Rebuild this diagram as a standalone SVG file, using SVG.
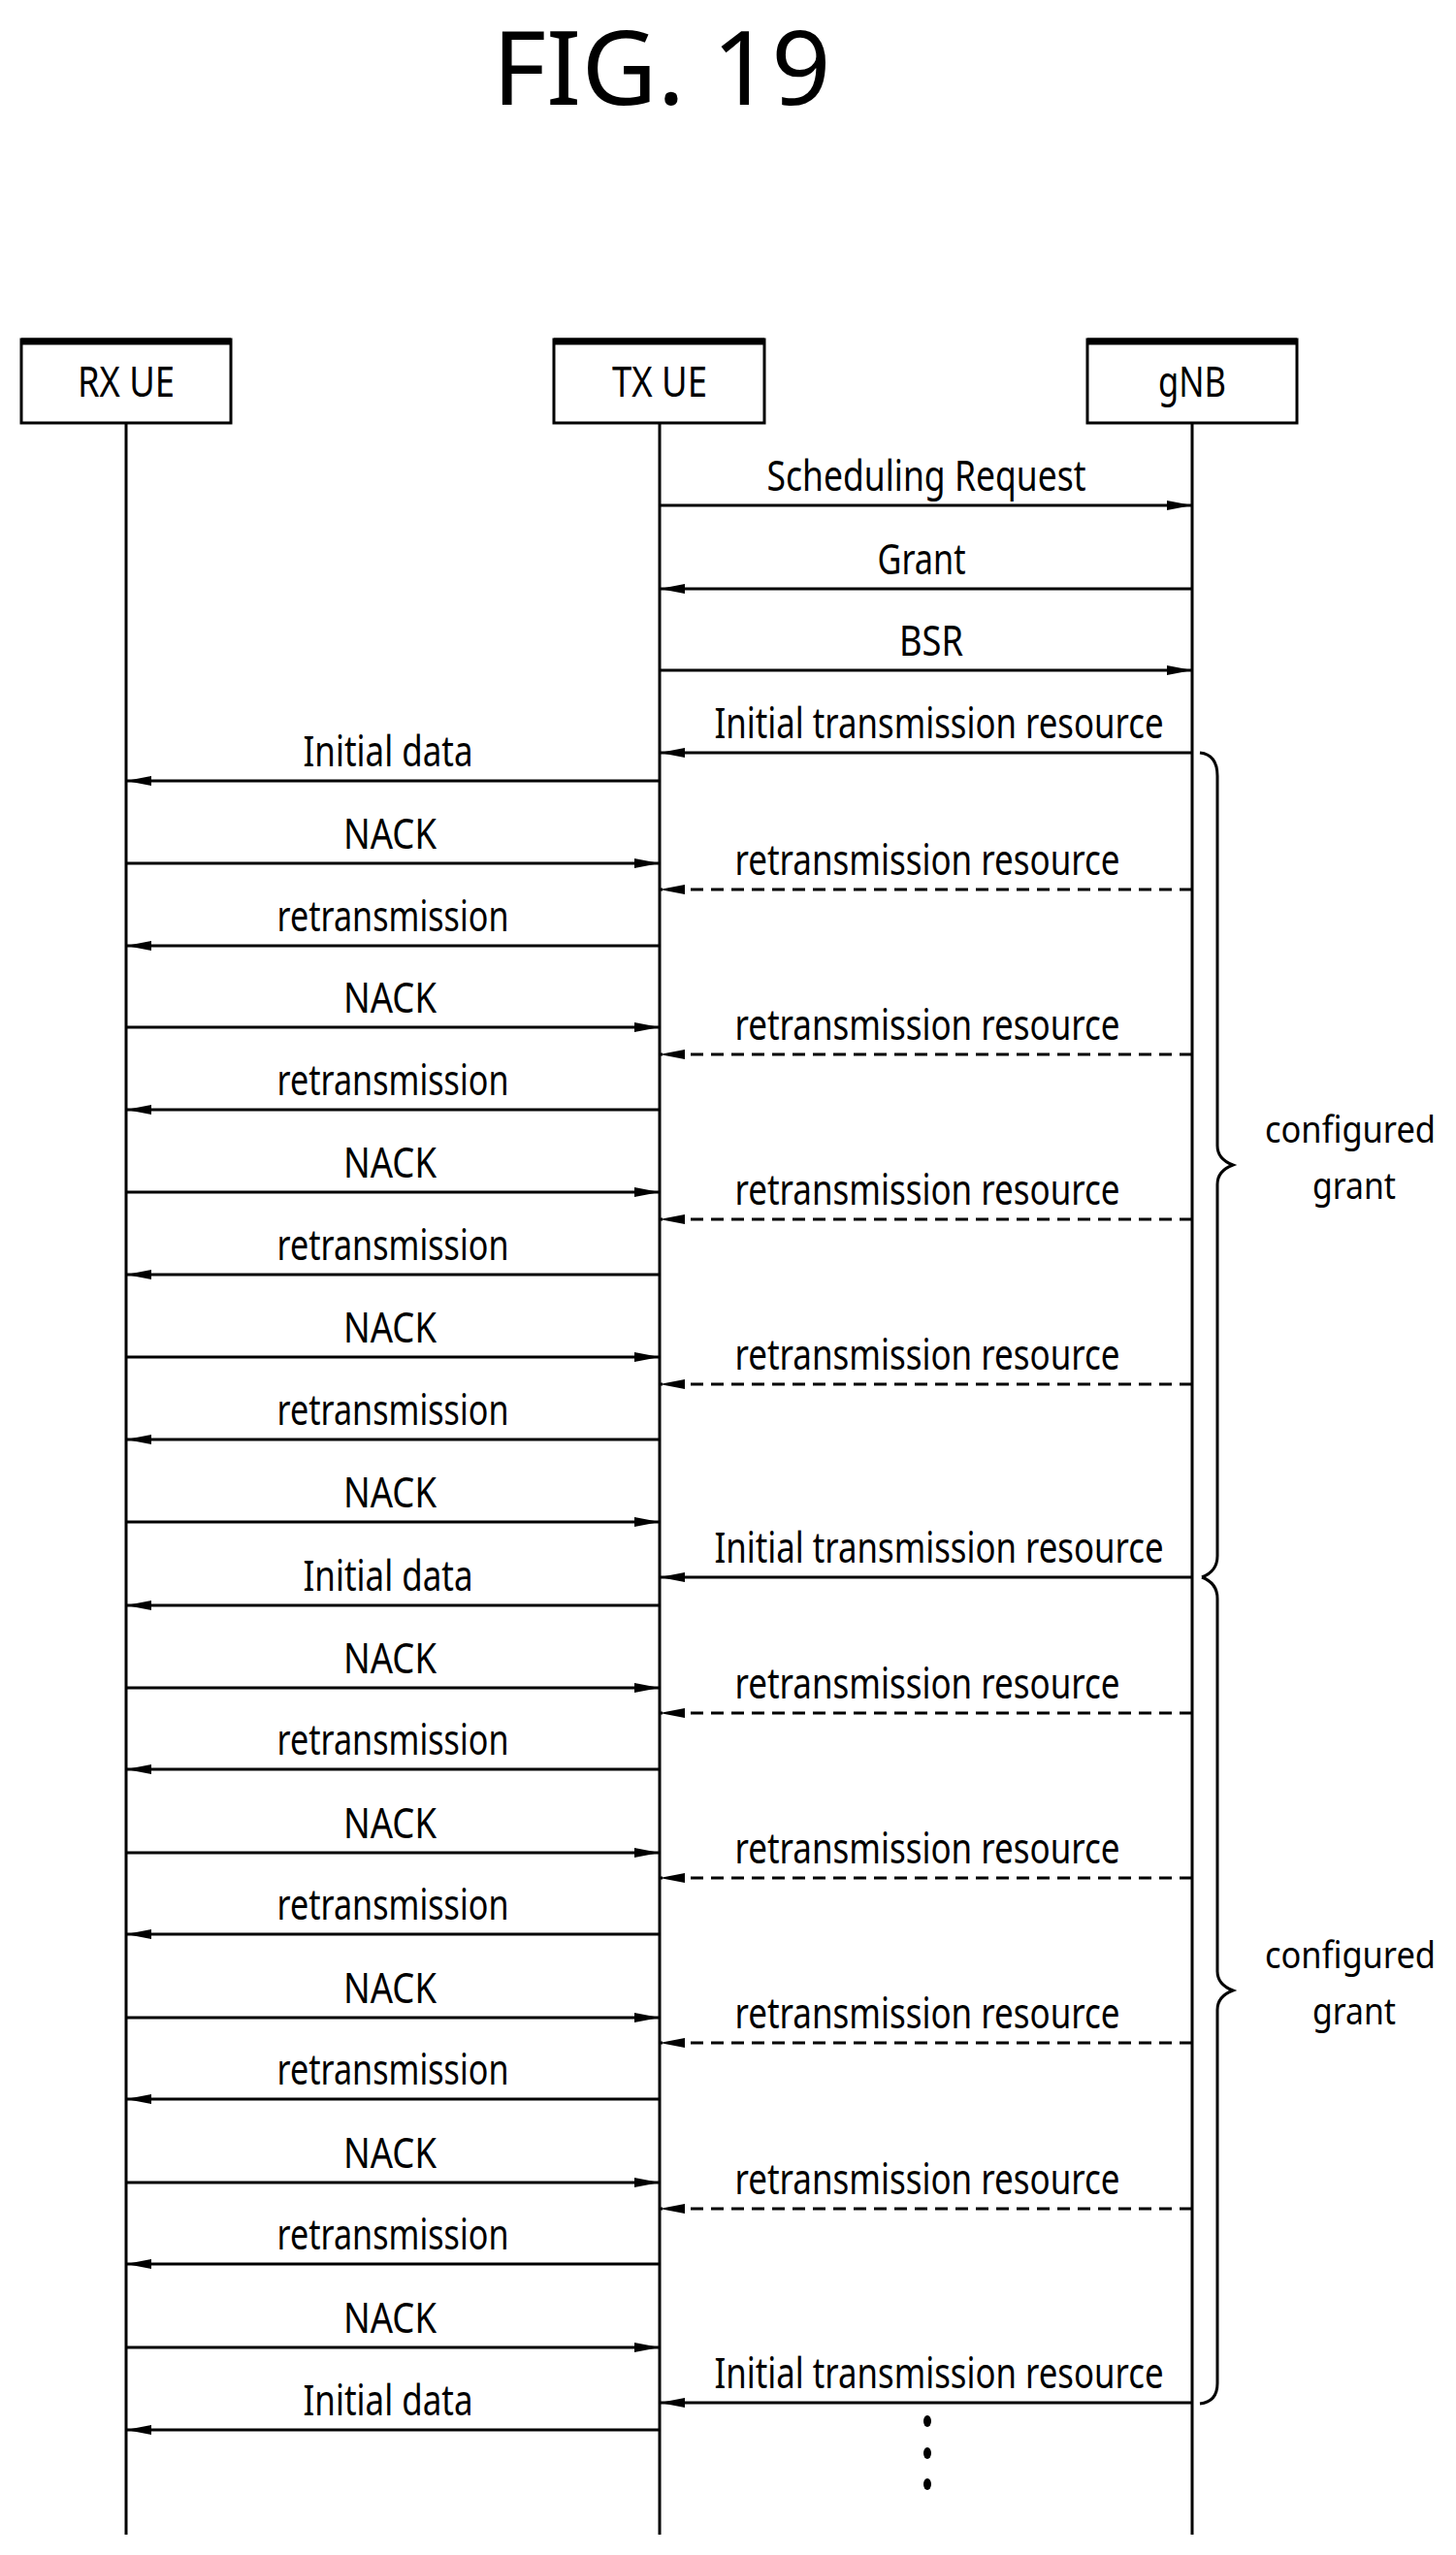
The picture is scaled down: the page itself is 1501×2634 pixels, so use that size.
<svg xmlns="http://www.w3.org/2000/svg" width="1501" height="2634" viewBox="0 0 1501 2634">
<style>
text{font-family:"Noto Sans","Liberation Sans",sans-serif;fill:#000}
.lbl{font-size:44px;text-anchor:middle}
.box{fill:#fff;stroke:#000;stroke-width:3}
.top{stroke:#000;stroke-width:7}
.life{stroke:#000;stroke-width:3}
.s{stroke:#000;stroke-width:3;fill:none}
.d{stroke:#000;stroke-width:3;fill:none;stroke-dasharray:13 8}
.br{stroke:#000;stroke-width:3;fill:none}
</style>
<defs>
<marker id="ah" viewBox="0 0 26 10" refX="26" refY="5" markerWidth="26" markerHeight="10" markerUnits="userSpaceOnUse" orient="auto">
<path d="M0,0 L26,5 L0,10 Z" fill="#000"/>
</marker>
</defs>
<text x="682" y="108" font-size="106" text-anchor="middle" textLength="349" lengthAdjust="spacingAndGlyphs">FIG. 19</text>
<g id="rxue"><rect class="box" x="22" y="350" width="216" height="86"/><line class="top" x1="22" y1="352" x2="238" y2="352"/><text class="lbl" x="130" y="409" font-size="46" textLength="100" lengthAdjust="spacingAndGlyphs">RX UE</text><line class="life" x1="130" y1="436" x2="130" y2="2613"/></g>
<g id="txue"><rect class="box" x="571" y="350" width="217" height="86"/><line class="top" x1="571" y1="352" x2="788" y2="352"/><text class="lbl" x="680" y="409" font-size="46" textLength="98" lengthAdjust="spacingAndGlyphs">TX UE</text><line class="life" x1="680" y1="436" x2="680" y2="2613"/></g>
<g id="gnb"><rect class="box" x="1121" y="350" width="216" height="86"/><line class="top" x1="1121" y1="352" x2="1337" y2="352"/><text class="lbl" x="1229" y="409" font-size="46" textLength="70" lengthAdjust="spacingAndGlyphs">gNB</text><line class="life" x1="1229" y1="436" x2="1229" y2="2613"/></g>
<g id="connectors" marker-end="url(#ah)">
<line class="s" x1="680" y1="521" x2="1229" y2="521"/>
<line class="s" x1="1229" y1="607" x2="680" y2="607"/>
<line class="s" x1="680" y1="691" x2="1229" y2="691"/>
<line class="s" x1="1229" y1="776" x2="680" y2="776"/>
<line class="s" x1="680" y1="805" x2="130" y2="805"/>
<line class="s" x1="130" y1="890" x2="680" y2="890"/>
<line class="d" x1="1229" y1="917" x2="680" y2="917"/>
<line class="s" x1="680" y1="975" x2="130" y2="975"/>
<line class="s" x1="130" y1="1059" x2="680" y2="1059"/>
<line class="d" x1="1229" y1="1087" x2="680" y2="1087"/>
<line class="s" x1="680" y1="1144" x2="130" y2="1144"/>
<line class="s" x1="130" y1="1229" x2="680" y2="1229"/>
<line class="d" x1="1229" y1="1257" x2="680" y2="1257"/>
<line class="s" x1="680" y1="1314" x2="130" y2="1314"/>
<line class="s" x1="130" y1="1399" x2="680" y2="1399"/>
<line class="d" x1="1229" y1="1427" x2="680" y2="1427"/>
<line class="s" x1="680" y1="1484" x2="130" y2="1484"/>
<line class="s" x1="130" y1="1569" x2="680" y2="1569"/>
<line class="s" x1="1229" y1="1626" x2="680" y2="1626"/>
<line class="s" x1="680" y1="1655" x2="130" y2="1655"/>
<line class="s" x1="130" y1="1740" x2="680" y2="1740"/>
<line class="d" x1="1229" y1="1766" x2="680" y2="1766"/>
<line class="s" x1="680" y1="1824" x2="130" y2="1824"/>
<line class="s" x1="130" y1="1910" x2="680" y2="1910"/>
<line class="d" x1="1229" y1="1936" x2="680" y2="1936"/>
<line class="s" x1="680" y1="1994" x2="130" y2="1994"/>
<line class="s" x1="130" y1="2080" x2="680" y2="2080"/>
<line class="d" x1="1229" y1="2106" x2="680" y2="2106"/>
<line class="s" x1="680" y1="2164" x2="130" y2="2164"/>
<line class="s" x1="130" y1="2250" x2="680" y2="2250"/>
<line class="d" x1="1229" y1="2277" x2="680" y2="2277"/>
<line class="s" x1="680" y1="2334" x2="130" y2="2334"/>
<line class="s" x1="130" y1="2420" x2="680" y2="2420"/>
<line class="s" x1="1229" y1="2477" x2="680" y2="2477"/>
<line class="s" x1="680" y1="2505" x2="130" y2="2505"/>
</g>
<g id="labels">
<text class="lbl" x="955" y="506" textLength="329" lengthAdjust="spacingAndGlyphs">Scheduling Request</text>
<text class="lbl" x="950" y="592" textLength="91" lengthAdjust="spacingAndGlyphs">Grant</text>
<text class="lbl" x="960" y="676" textLength="66" lengthAdjust="spacingAndGlyphs">BSR</text>
<text class="lbl" x="968" y="761" textLength="463" lengthAdjust="spacingAndGlyphs">Initial transmission resource</text>
<text class="lbl" x="400" y="790" textLength="175" lengthAdjust="spacingAndGlyphs">Initial data</text>
<text class="lbl" x="402" y="875" textLength="96" lengthAdjust="spacingAndGlyphs">NACK</text>
<text class="lbl" x="956" y="902" textLength="397" lengthAdjust="spacingAndGlyphs">retransmission resource</text>
<text class="lbl" x="405" y="960" textLength="239" lengthAdjust="spacingAndGlyphs">retransmission</text>
<text class="lbl" x="402" y="1044" textLength="96" lengthAdjust="spacingAndGlyphs">NACK</text>
<text class="lbl" x="956" y="1072" textLength="397" lengthAdjust="spacingAndGlyphs">retransmission resource</text>
<text class="lbl" x="405" y="1129" textLength="239" lengthAdjust="spacingAndGlyphs">retransmission</text>
<text class="lbl" x="402" y="1214" textLength="96" lengthAdjust="spacingAndGlyphs">NACK</text>
<text class="lbl" x="956" y="1242" textLength="397" lengthAdjust="spacingAndGlyphs">retransmission resource</text>
<text class="lbl" x="405" y="1299" textLength="239" lengthAdjust="spacingAndGlyphs">retransmission</text>
<text class="lbl" x="402" y="1384" textLength="96" lengthAdjust="spacingAndGlyphs">NACK</text>
<text class="lbl" x="956" y="1412" textLength="397" lengthAdjust="spacingAndGlyphs">retransmission resource</text>
<text class="lbl" x="405" y="1469" textLength="239" lengthAdjust="spacingAndGlyphs">retransmission</text>
<text class="lbl" x="402" y="1554" textLength="96" lengthAdjust="spacingAndGlyphs">NACK</text>
<text class="lbl" x="968" y="1611" textLength="463" lengthAdjust="spacingAndGlyphs">Initial transmission resource</text>
<text class="lbl" x="400" y="1640" textLength="175" lengthAdjust="spacingAndGlyphs">Initial data</text>
<text class="lbl" x="402" y="1725" textLength="96" lengthAdjust="spacingAndGlyphs">NACK</text>
<text class="lbl" x="956" y="1751" textLength="397" lengthAdjust="spacingAndGlyphs">retransmission resource</text>
<text class="lbl" x="405" y="1809" textLength="239" lengthAdjust="spacingAndGlyphs">retransmission</text>
<text class="lbl" x="402" y="1895" textLength="96" lengthAdjust="spacingAndGlyphs">NACK</text>
<text class="lbl" x="956" y="1921" textLength="397" lengthAdjust="spacingAndGlyphs">retransmission resource</text>
<text class="lbl" x="405" y="1979" textLength="239" lengthAdjust="spacingAndGlyphs">retransmission</text>
<text class="lbl" x="402" y="2065" textLength="96" lengthAdjust="spacingAndGlyphs">NACK</text>
<text class="lbl" x="956" y="2091" textLength="397" lengthAdjust="spacingAndGlyphs">retransmission resource</text>
<text class="lbl" x="405" y="2149" textLength="239" lengthAdjust="spacingAndGlyphs">retransmission</text>
<text class="lbl" x="402" y="2235" textLength="96" lengthAdjust="spacingAndGlyphs">NACK</text>
<text class="lbl" x="956" y="2262" textLength="397" lengthAdjust="spacingAndGlyphs">retransmission resource</text>
<text class="lbl" x="405" y="2319" textLength="239" lengthAdjust="spacingAndGlyphs">retransmission</text>
<text class="lbl" x="402" y="2405" textLength="96" lengthAdjust="spacingAndGlyphs">NACK</text>
<text class="lbl" x="968" y="2462" textLength="463" lengthAdjust="spacingAndGlyphs">Initial transmission resource</text>
<text class="lbl" x="400" y="2490" textLength="175" lengthAdjust="spacingAndGlyphs">Initial data</text>
</g>
<g id="brace1">
<path class="br" d="M1237,776 Q1255,778 1255,800 L1255,1181 Q1255,1195 1271,1201 Q1255,1207 1255,1221 L1255,1604 Q1255,1620 1239,1626"/>
<text x="1392" y="1178" font-size="38" text-anchor="middle" textLength="176" lengthAdjust="spacingAndGlyphs">configured</text>
<text x="1396" y="1236" font-size="38" text-anchor="middle" textLength="86" lengthAdjust="spacingAndGlyphs">grant</text>
</g>
<g id="brace2">
<path class="br" d="M1239,1626 Q1255,1632 1255,1648 L1255,2032 Q1255,2046 1271,2052 Q1255,2058 1255,2072 L1255,2457 Q1255,2476 1237,2478"/>
<text x="1392" y="2029" font-size="38" text-anchor="middle" textLength="176" lengthAdjust="spacingAndGlyphs">configured</text>
<text x="1396" y="2087" font-size="38" text-anchor="middle" textLength="86" lengthAdjust="spacingAndGlyphs">grant</text>
</g>
<g id="dots">
<ellipse cx="956" cy="2496" rx="4" ry="6"/>
<ellipse cx="956" cy="2529" rx="4" ry="6"/>
<ellipse cx="956" cy="2561" rx="4" ry="6"/>
</g>
</svg>
